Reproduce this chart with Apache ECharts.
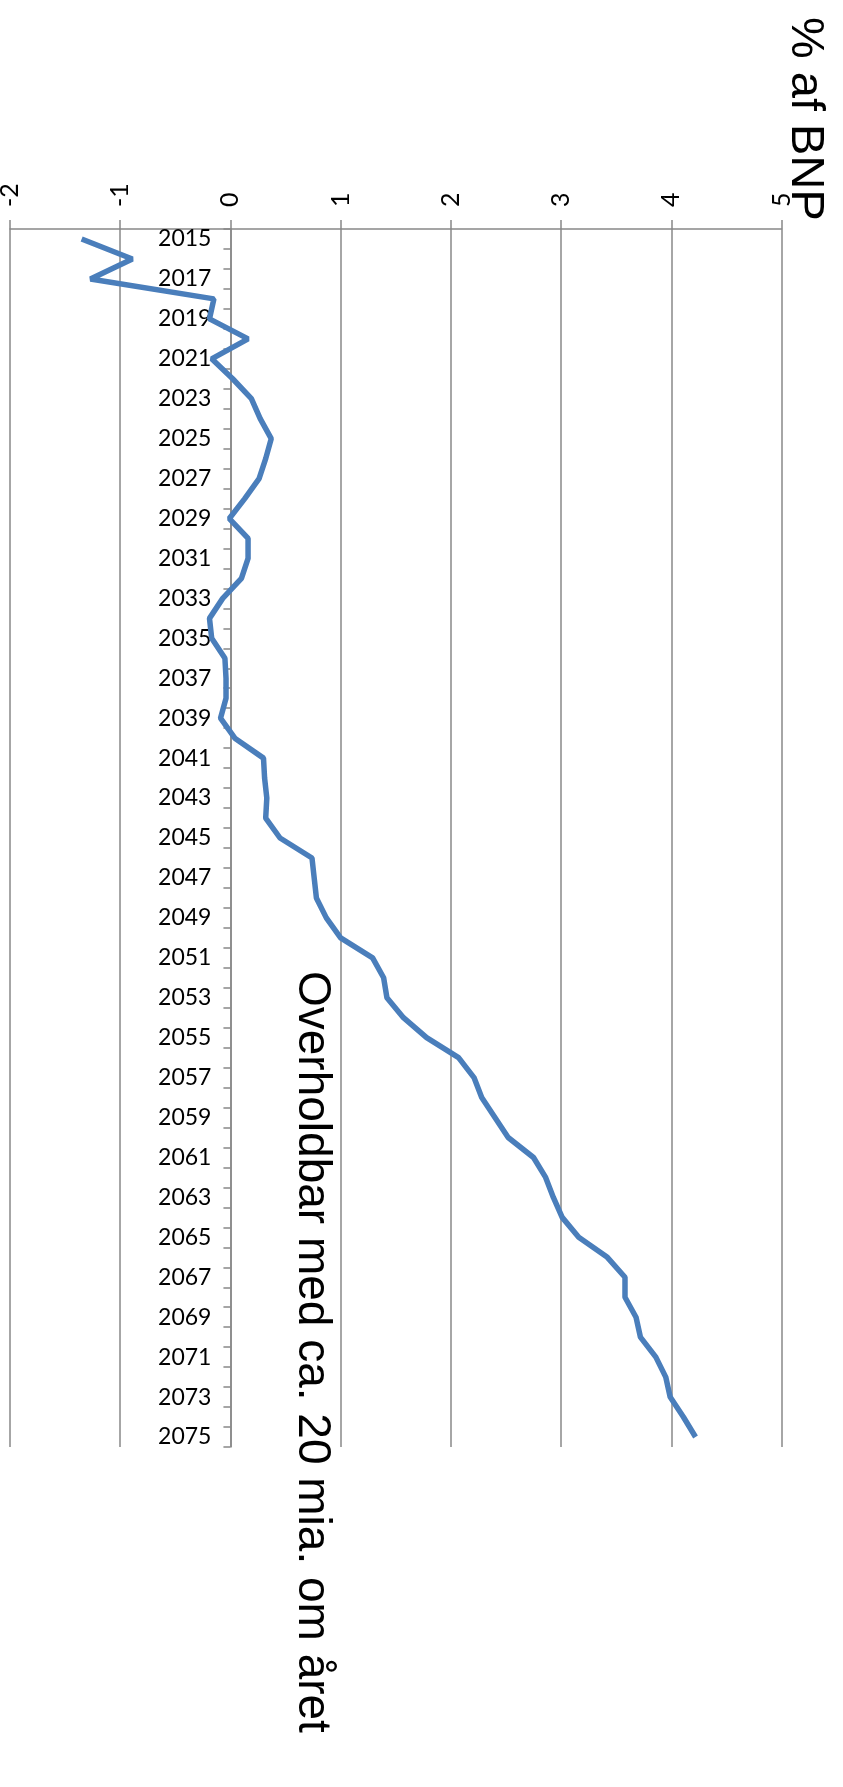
<!DOCTYPE html>
<html>
<head>
    <meta charset="utf-8">
    <title>Holdbarhed</title>
    <script src="https://cdn.jsdelivr.net/npm/echarts@6/dist/echarts.min.js"></script>
    <style>
        html, body { margin: 0; padding: 0; background: #fff; }
    </style>
</head>
<body>
<div id="main" style="width: 843px;height:1787px;"></div>

<script type="text/javascript">
    // aarstal paa kategoriaksen
    var years = [];
    for (var y = 2015; y <= 2075; y++) { years.push(String(y)); }

    // % af BNP, aflaest fra figuren
    var values = [
        -1.35, -0.89, -1.27, -0.15, -0.19, 0.16, -0.17, 0.02, 0.19, 0.27,   // 2015-2024
        0.37, 0.32, 0.26, 0.13, -0.01, 0.16, 0.16, 0.10, -0.07, -0.19,      // 2025-2034
        -0.17, -0.05, -0.04, -0.04, -0.09, 0.04, 0.30, 0.31, 0.33, 0.32,    // 2035-2044
        0.45, 0.74, 0.76, 0.78, 0.87, 1.00, 1.29, 1.39, 1.42, 1.57,         // 2045-2054
        1.78, 2.07, 2.21, 2.28, 2.40, 2.52, 2.75, 2.86, 2.93, 3.01,         // 2055-2064
        3.16, 3.42, 3.58, 3.58, 3.68, 3.72, 3.86, 3.95, 3.99, 4.11,         // 2065-2074
        4.22                                                                // 2075
    ];

    var valueMin = -2, valueMax = 5, valueStep = 1;
    var unitLabel = '% af BNP';
    var note = 'Overholdbar med ca. 20 mia. om året';

    var gray = '#888888';
    var gridLeft = 10, gridRight = 61.5;
    // kategoriaksen staar ved 0 paa vaerdiaksen
    var zeroX = gridLeft + (0 - valueMin) / (valueMax - valueMin) * (843 - gridLeft - gridRight);

    var chart = echarts.init(document.getElementById('main'));

    var option = {
        animation: false,
        grid: {
            left: gridLeft, right: gridRight, top: 229, bottom: 340,
            containLabel: false,
            outerBoundsMode: 'none'
        },
        xAxis: {
            type: 'value',
            position: 'top',
            min: valueMin,
            max: valueMax,
            interval: valueStep,
            axisLine: { show: true, lineStyle: { color: gray, width: 1.5 } },
            axisTick: { show: true, length: 9, lineStyle: { color: gray, width: 1.5 } },
            splitLine: { show: true, lineStyle: { color: gray, width: 1.5 } },
            axisLabel: {
                rotate: -90,
                margin: 22,
                color: '#000',
                fontFamily: 'Lato',
                fontSize: 25
            }
        },
        yAxis: {
            type: 'category',
            inverse: true,
            data: years,
            boundaryGap: true,
            offset: -(zeroX - gridLeft),
            axisLine: { show: true, onZero: false, lineStyle: { color: gray, width: 1.5 } },
            axisTick: { show: true, interval: 0, length: 7, lineStyle: { color: gray, width: 1.5 } },
            splitLine: { show: false },
            axisLabel: {
                interval: 1,
                margin: 19,
                color: '#000',
                fontFamily: 'Lato',
                fontSize: 23
            }
        },
        series: [{
            type: 'line',
            data: values,
            symbol: 'none',
            lineStyle: { color: '#4A7EBB', width: 5.5 }
        }],
        graphic: [
            {
                type: 'text',
                x: 805, y: 17,
                rotation: -Math.PI / 2,
                style: {
                    text: unitLabel,
                    fill: '#000',
                    font: '47px "Liberation Sans", Arial, sans-serif',
                    textAlign: 'left',
                    textVerticalAlign: 'middle'
                }
            },
            {
                type: 'text',
                x: 312, y: 971,
                rotation: -Math.PI / 2,
                style: {
                    text: note,
                    fill: '#000',
                    font: '46px "Liberation Sans", Arial, sans-serif',
                    textAlign: 'left',
                    textVerticalAlign: 'middle'
                }
            }
        ]
    };

    chart.setOption(option);
</script>
</body>
</html>
